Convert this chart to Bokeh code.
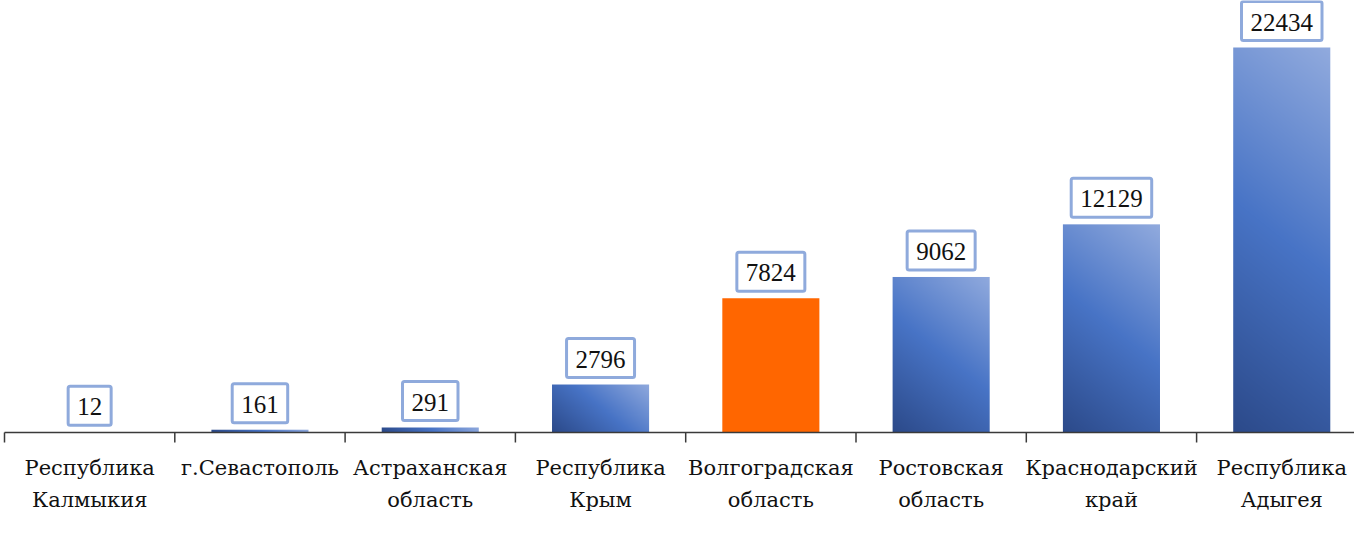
import numpy as np
from bokeh.plotting import figure
from bokeh.models import Range1d, Label
from bokeh.embed import file_html
from bokeh.resources import INLINE

# ---- data ----
categories = ["Республика\nКалмыкия", "г.Севастополь", "Астраханская\nобласть",
              "Республика\nКрым", "Волгоградская\nобласть", "Ростовская\nобласть",
              "Краснодарский\nкрай", "Республика\nАдыгея"]
values = [12, 161, 291, 2796, 7824, 9062, 12129, 22434]
highlight = "Волгоградская\nобласть"

# ---- style ----
FONT = "'Liberation Serif', 'Times New Roman', serif"
FONT_CAT = "'DejaVu Serif', 'Liberation Serif', serif"
W, H = 1354, 520
PX_PER_CAT = 170.3
BAR_W = 0.57
AXIS_Y_PX = 432          # axis line position from top of canvas
PX_PER_UNIT = 385 / 22434
x0 = -4 / PX_PER_CAT
n = len(categories)

p = figure(width=W, height=H, output_backend="svg", toolbar_location=None,
           x_range=Range1d(x0, x0 + W / PX_PER_CAT),
           y_range=Range1d(-(H - AXIS_Y_PX) / PX_PER_UNIT, AXIS_Y_PX / PX_PER_UNIT),
           x_axis_location=None, y_axis_location=None,
           min_border=0)
p.outline_line_color = None
p.grid.visible = False
p.background_fill_color = "white"
p.border_fill_color = "white"


def gradient(h_px, w_px=97):
    """Diagonal (pixel space) gradient: dark bottom-left -> light top-right."""
    ny = max(2, int(round(h_px)))
    nx = int(w_px)
    u = np.arange(nx)[None, :]
    v = np.arange(ny)[:, None]
    s = np.clip((0.8 * u + v) / float(0.8 * nx + ny), 0, 1)
    stops_t = [0.0, 0.5, 1.0]
    cols = np.array([(44, 74, 138), (72, 116, 198), (146, 171, 222)], dtype=float)
    img = np.zeros((ny, nx), dtype=np.uint32)
    view = img.view(dtype=np.uint8).reshape((ny, nx, 4))
    for c in range(3):
        view[:, :, c] = np.interp(s, stops_t, cols[:, c]).astype(np.uint8)
    view[:, :, 3] = 255
    return img


centers = [i + 0.5 for i in range(n)]
blue_idx = [i for i, c in enumerate(categories) if c != highlight]
org_idx = [i for i, c in enumerate(categories) if c == highlight]

p.image_rgba(image=[gradient(values[i] * PX_PER_UNIT, BAR_W * PX_PER_CAT) for i in blue_idx],
             x=[centers[i] - BAR_W / 2 for i in blue_idx],
             y=[0] * len(blue_idx),
             dw=[BAR_W] * len(blue_idx),
             dh=[values[i] for i in blue_idx])
p.vbar(x=[centers[i] for i in org_idx], top=[values[i] for i in org_idx],
       width=BAR_W, fill_color="#FF6600", line_color=None)

# category axis: baseline + boundary tick marks + two-line labels
AXIS_COLOR = "#3a3a3a"
TICK_PX = 10
bounds = list(range(n + 1))
p.segment(x0=[0], y0=[0], x1=[n], y1=[0], line_color=AXIS_COLOR, line_width=1.5)
p.segment(x0=bounds, y0=[0] * len(bounds), x1=bounds,
          y1=[-TICK_PX / PX_PER_UNIT] * len(bounds),
          line_color=AXIS_COLOR, line_width=1.5)

LINE1_PX, LINE_GAP_PX = 35, 32
for c, lab in zip(centers, categories):
    for k, part in enumerate(lab.split("\n")):
        p.add_layout(Label(x=c, y=0, y_offset=-(LINE1_PX + k * LINE_GAP_PX), text=part,
                           text_align="center", text_baseline="middle",
                           text_font=FONT_CAT, text_font_size="21px", text_color="#111111"))

# value labels in framed boxes
for i, v in enumerate(values):
    p.add_layout(Label(x=centers[i], y=v, text=str(v), y_offset=7,
                       text_align="center", text_baseline="bottom",
                       text_font=FONT, text_font_size="25px", text_color="#111111",
                       background_fill_color="white",
                       border_line_color="#8FAADC", border_line_width=3,
                       border_radius=2,
                       padding=dict(left=9, right=9, top=12, bottom=10)))

open("out.html", "w").write(file_html(p, INLINE))
